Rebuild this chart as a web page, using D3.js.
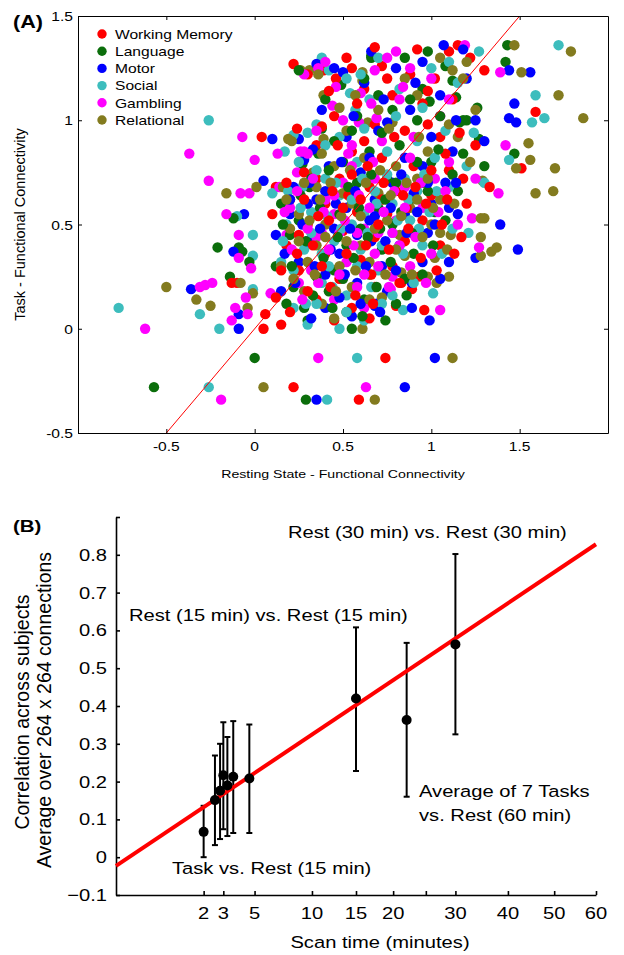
<!DOCTYPE html>
<html><head><meta charset="utf-8">
<script src="https://cdn.jsdelivr.net/npm/d3@7"></script>
<style>
body{margin:0;background:#fff}
text{font-family:"Liberation Sans",Arial,Helvetica,sans-serif;fill:#000}
</style>
</head><body>
<svg id="c" width="624" height="955"></svg>
<script>
// ---------------- Panel A data ----------------
const categories = ["Working Memory","Language","Motor","Social","Gambling","Relational"];
const workingMemory = [[0.22,1.27],[0.39,1.24],[0.04,0.92],[0.12,0.68],[0.35,0.72],[-0.13,0.22],[-0.10,0.22],[0.06,0.07],[0.05,0.0],[0.15,0.02],[0.22,-0.28],[0.74,-0.14],[0.59,-0.34],[0.96,0.09],[0.80,0.11],[0.93,0.25],[0.89,0.19],[0.83,0.22],[1.17,0.44],[1.59,1.04],[1.51,0.77],[1.15,1.36],[1.10,1.33],[0.46,1.20],
[0.30,1.22],[0.55,1.25],[0.72,1.26],[0.88,1.22],[1.02,1.20],[1.22,1.30],[0.62,1.15],[0.78,1.12],[0.95,1.08],[1.12,1.10],[0.45,1.02],[0.68,0.98],[0.85,0.95],[1.05,0.92],[1.25,0.88],[0.35,0.88],[0.55,0.85],[0.72,0.82],[0.90,0.78],[1.10,0.76],[0.28,0.75],[0.48,0.72],[0.65,0.68],[0.80,0.66],[1.00,0.64],[1.20,0.60],[0.20,0.62],[0.40,0.60],[0.58,0.56],[0.75,0.55],[0.95,0.52],[0.30,0.50],[0.50,0.47],[0.68,0.44],[0.85,0.42],[1.05,0.40],[0.18,0.40],[0.40,0.36],[0.60,0.33],[0.78,0.30],[0.25,0.28],[0.48,0.24],[0.68,0.20],[0.35,0.14],[0.55,0.10],[0.20,0.08],[0.45,0.04],[0.65,0.05],[1.18,0.72],[1.33,0.68],[0.10,0.55],
[0.52,1.30],[0.92,1.34],[0.38,0.97],[0.62,0.90],[0.98,0.98],[0.15,0.28],[0.30,0.18],[0.72,0.62],[0.86,0.58],[0.25,0.45],[0.53,0.64],[1.08,0.84],[0.42,0.52],[0.66,0.26],[0.12,0.15],
[0.18,0.70],[0.24,0.36],[0.28,0.62],[0.33,0.40],[0.36,0.54],[0.38,0.30],[0.43,0.20],[0.44,0.66],[0.47,0.88],[0.50,0.58],[0.52,0.36],[0.55,0.74],[0.57,0.16],[0.60,0.62],[0.63,0.40],[0.64,0.78],[0.67,0.12],[0.70,0.50],[0.73,0.70],[0.76,0.38],[0.79,0.92],[0.82,0.22],[0.84,0.64],[0.87,0.48],[0.91,0.68],[0.94,0.34],[0.97,0.60],[1.00,0.76],[1.03,0.28],[1.06,0.50],[1.09,0.62],[1.13,0.36],[1.16,0.94],[0.42,1.14],[0.58,1.08],[0.75,1.20],[0.98,1.14],[1.30,1.24],[0.24,0.96],[0.68,1.35]];
const language = [[0.27,0.79],[0.31,0.68],[-0.21,0.39],[-0.14,0.25],[-0.09,0.39],[-0.07,0.37],[-0.12,0.53],[-0.03,0.32],[0.0,-0.14],[-0.57,-0.28],[0.29,-0.34],[0.49,1.17],[0.66,1.31],[0.66,1.30],[1.43,1.36],[1.42,1.28],[1.47,0.84],[1.26,1.06],[1.20,1.00],[1.16,0.99],[1.18,1.00],[1.12,1.19],[1.14,1.11],[1.27,0.91],[0.99,1.09],
[0.15,0.60],[0.25,0.52],[0.42,0.66],[0.55,0.62],[0.70,0.58],[0.88,0.62],[1.02,0.56],[0.35,0.45],[0.52,0.40],[0.72,0.38],[0.90,0.36],[0.22,0.20],[0.42,0.18],[0.62,0.14],[0.80,0.12],[0.30,0.04],[0.55,0.0],[0.50,0.80],[0.65,0.85],[0.82,0.88],[1.00,0.80],[0.38,0.96],[0.58,1.02],[0.78,1.05],[0.95,1.15],[1.08,1.26],[0.85,1.30],[0.75,0.72],[0.95,0.70],[1.15,0.66],[0.45,0.28],[0.65,0.26],[0.85,0.24],[0.12,0.30],[0.62,1.20],[0.40,1.10],
[0.18,0.12],[0.35,0.25],[0.48,0.55],[0.60,0.48],[0.78,0.50],[0.32,0.72],[0.58,0.70],[0.20,0.45],[0.70,1.12],[0.92,1.00],[1.05,1.02],[0.45,0.90],[0.28,0.10],[0.52,0.08],[0.74,0.04],
[0.16,0.50],[0.21,0.30],[0.26,0.64],[0.29,0.42],[0.33,0.16],[0.37,0.58],[0.39,0.34],[0.42,0.76],[0.44,0.10],[0.47,0.44],[0.50,0.24],[0.53,0.68],[0.56,0.34],[0.59,0.58],[0.61,0.06],[0.64,0.44],[0.66,0.74],[0.69,0.20],[0.71,0.48],[0.74,0.62],[0.77,0.32],[0.80,0.70],[0.83,0.56],[0.86,0.16],[0.89,0.46],[0.92,0.80],[0.95,0.26],[0.98,0.66],[1.01,0.40],[1.04,0.86],[1.08,0.52],[1.12,0.74],[0.36,0.84],[0.55,0.95],[0.72,0.94],[0.88,1.10],[1.18,0.84],[0.25,1.24],[0.98,1.33],[1.30,0.78]];
const motor = [[0.10,0.91],[0.25,0.91],[0.28,0.81],[0.05,0.71],[-0.06,0.55],[-0.12,0.37],[-0.36,0.19],[-0.09,0.07],[-0.09,0.0],[0.35,-0.34],[1.02,-0.14],[0.85,-0.28],[0.99,0.04],[0.68,0.11],[0.69,0.12],[1.49,0.38],[1.39,0.50],[1.25,0.34],[1.10,0.32],[0.89,0.22],[1.44,1.24],[1.56,1.23],[1.47,1.08],[1.44,1.01],[1.48,0.99],[1.07,1.36],[0.66,1.33],[0.35,1.27],[0.50,1.23],[0.75,0.99],
[0.20,0.55],[0.35,0.62],[0.52,0.58],[0.68,0.62],[0.85,0.55],[1.00,0.60],[0.30,0.42],[0.48,0.36],[0.66,0.42],[0.82,0.40],[0.98,0.46],[0.25,0.32],[0.40,0.26],[0.58,0.22],[0.75,0.18],[0.40,0.10],[0.55,0.06],[0.42,0.78],[0.60,0.75],[0.78,0.70],[0.95,0.78],[1.12,0.85],[0.52,0.92],[0.70,0.95],[0.88,1.05],[1.05,1.12],[0.62,1.18],[0.80,1.25],[0.95,1.28],[1.20,1.20],[0.15,0.18],[1.15,0.55],[0.45,0.48],
[0.32,0.05],[0.22,0.68],[0.58,0.45],[0.72,0.30],[0.90,0.65],[1.08,0.70],[0.38,1.05],[1.00,0.92],[0.85,0.82],[0.30,0.60],[0.12,0.45],[0.65,0.52],[1.25,1.00],[0.48,0.15],
[0.17,0.36],[0.20,0.62],[0.23,0.22],[0.27,0.50],[0.31,0.70],[0.34,0.30],[0.37,0.48],[0.40,0.66],[0.43,0.38],[0.46,0.60],[0.49,0.80],[0.51,0.26],[0.54,0.48],[0.57,0.66],[0.60,0.12],[0.63,0.30],[0.65,0.82],[0.68,0.54],[0.71,0.08],[0.74,0.42],[0.77,0.58],[0.80,0.28],[0.83,0.74],[0.86,0.46],[0.89,0.10],[0.92,0.56],[0.95,0.32],[0.98,0.70],[1.02,0.50],[1.05,0.24],[1.10,0.58],[1.14,0.70],[0.33,0.86],[0.56,1.02],[0.73,1.10],[0.91,1.18],[1.14,1.00],[1.30,0.90],[0.45,1.25],[1.18,1.34]];
const social = [[-0.26,1.0],[0.22,0.93],[0.17,0.85],[0.10,0.65],[0.27,0.68],[-0.10,0.54],[-0.01,0.35],[-0.01,0.45],[-0.01,0.19],[-0.77,0.10],[-0.31,0.07],[-0.20,0.0],[-0.26,-0.28],[0.58,-0.14],[0.41,-0.34],[0.84,0.09],[1.01,0.17],[1.21,0.46],[1.72,1.36],[1.27,1.33],[0.38,1.30],[0.42,1.24],[0.54,1.13],[1.59,1.12],[1.64,1.01],[1.57,0.99],[1.44,0.81],[0.57,1.05],
[0.18,0.50],[0.32,0.56],[0.48,0.64],[0.62,0.55],[0.78,0.60],[0.92,0.66],[0.28,0.38],[0.45,0.42],[0.60,0.38],[0.78,0.46],[0.95,0.40],[0.22,0.10],[0.38,0.22],[0.52,0.16],[0.70,0.28],[0.30,0.02],[0.48,0.00],[0.62,0.04],[0.40,0.72],[0.58,0.80],[0.75,0.85],[0.92,0.90],[1.08,0.95],[0.65,1.10],[0.82,1.15],[1.00,1.25],[1.15,1.18],[0.70,1.30],[1.20,0.78],[1.10,0.68],[0.35,0.98],
[0.15,0.32],[0.42,0.30],[0.55,0.50],[0.68,0.66],[0.85,0.72],[0.25,0.80],[0.48,0.92],[0.88,0.52],[1.02,0.82],[0.60,1.22],[0.35,0.12],[0.72,0.12],[1.30,0.70],[0.50,0.26],
[0.16,0.42],[0.19,0.66],[0.22,0.28],[0.26,0.58],[0.29,0.12],[0.32,0.46],[0.35,0.76],[0.38,0.36],[0.41,0.54],[0.44,0.20],[0.46,0.70],[0.49,0.48],[0.52,0.08],[0.55,0.62],[0.58,0.30],[0.61,0.72],[0.64,0.46],[0.66,0.20],[0.69,0.60],[0.72,0.40],[0.75,0.74],[0.78,0.16],[0.81,0.52],[0.84,0.36],[0.87,0.62],[0.90,0.22],[0.93,0.48],[0.96,0.74],[0.99,0.56],[1.03,0.66],[1.06,0.36],[1.12,0.48],[0.40,0.88],[0.62,0.96],[0.80,1.02],[0.95,1.06],[1.10,1.28],[0.52,1.20],[1.24,0.94],[0.30,0.94]];
const gambling = [[-0.07,0.92],[-0.37,0.84],[0.0,0.81],[0.13,0.84],[0.26,0.85],[0.28,0.85],[0.24,0.75],[-0.26,0.71],[-0.08,0.65],[-0.03,0.65],[0.14,0.68],[-0.16,0.55],[-0.09,0.45],[-0.02,0.29],[-0.09,0.34],[-0.62,0.0],[-0.31,0.20],[-0.28,0.21],[-0.24,0.22],[-0.11,0.10],[-0.13,0.04],[-0.04,0.07],[-0.05,0.15],[0.09,0.17],[-0.19,-0.34],[0.36,-0.14],[0.63,-0.28],[1.05,0.09],[0.77,0.19],[0.78,0.25],[1.38,0.65],[1.27,0.39],[1.23,0.53],[1.39,1.23],[1.42,0.88],[1.19,1.36],[0.80,1.33],[0.36,1.25],[0.46,1.16],[0.44,1.07],[0.60,1.13],[0.59,0.99],[0.69,1.01],
[0.30,0.60],[0.45,0.55],[0.62,0.48],[0.80,0.52],[0.35,0.44],[0.52,0.32],[0.68,0.36],[0.88,0.30],[0.25,0.22],[0.45,0.14],[0.62,0.10],[0.50,0.70],[0.68,0.72],[0.85,0.68],[1.02,0.72],[0.55,0.88],[0.72,0.90],[0.90,0.92],[1.05,1.02],[0.82,1.10],[1.00,1.20],[0.68,1.24],[0.18,0.45],
[0.38,0.46],[0.48,0.46],[0.58,0.46],[0.70,0.46],[0.78,0.46],[0.40,0.62],[0.20,0.58],[0.55,0.78],[0.95,0.58],[1.10,0.80],[0.32,0.28],[0.58,0.20],[0.88,1.25],[0.75,1.30],[0.28,1.22],
[0.17,0.56],[0.21,0.38],[0.24,0.66],[0.27,0.14],[0.30,0.48],[0.33,0.72],[0.36,0.22],[0.39,0.56],[0.42,0.38],[0.45,0.64],[0.48,0.26],[0.51,0.52],[0.53,0.84],[0.56,0.40],[0.59,0.64],[0.62,0.26],[0.65,0.58],[0.67,0.80],[0.70,0.30],[0.73,0.56],[0.76,0.20],[0.79,0.66],[0.82,0.40],[0.85,0.58],[0.88,0.82],[0.91,0.44],[0.94,0.70],[0.97,0.22],[1.00,0.36],[1.04,0.56],[1.08,0.66],[1.15,0.50],[0.35,0.95],[0.50,1.00],[0.66,1.08],[0.84,1.16],[1.10,1.10],[0.40,1.28],[1.25,0.72],[0.30,0.84]];
const relational = [[0.26,1.24],[0.31,1.24],[0.39,1.12],[0.61,1.23],[0.61,1.19],[0.64,0.99],[0.78,0.99],[0.19,0.91],[0.21,0.90],[0.39,0.91],[0.33,0.75],[-0.16,0.65],[0.01,0.68],[0.16,0.68],[-0.50,0.20],[-0.33,0.14],[-0.25,0.11],[-0.08,0.22],[-0.04,0.10],[-0.01,0.17],[0.05,-0.28],[0.61,0.0],[1.12,-0.14],[0.68,-0.34],[1.59,0.65],[1.69,0.66],[1.29,0.71],[1.28,0.35],[1.34,0.37],[1.37,0.39],[1.28,0.44],[1.11,0.45],[1.28,0.53],[1.30,0.53],[1.10,0.25],[1.03,0.22],[1.02,0.34],[0.98,0.25],[0.83,0.27],[1.47,1.36],[1.79,1.33],[1.51,1.23],[1.72,1.12],[1.86,1.01],[1.55,0.89],[1.56,0.81],[1.48,0.77],[1.70,0.77],
[0.25,0.55],[0.40,0.50],[0.55,0.60],[0.70,0.65],[0.88,0.58],[1.05,0.62],[0.30,0.32],[0.48,0.30],[0.65,0.32],[0.82,0.45],[0.38,0.12],[0.55,0.20],[0.72,0.15],[0.45,0.78],[0.62,0.82],[0.80,0.78],[0.98,0.85],[1.15,0.92],[1.25,1.05],[0.85,1.20],[1.05,1.30],[1.20,1.28],[0.15,0.30],[0.35,0.68],
[0.20,0.48],[0.50,0.65],[0.60,0.40],[0.75,0.52],[0.92,0.72],[1.10,0.98],[0.45,0.05],[0.28,0.18],[0.70,1.05],[0.92,1.12],[1.18,1.20],[0.52,0.95],[1.00,0.50],[0.35,0.40],[0.85,0.35],
[0.18,0.62],[0.22,0.24],[0.25,0.42],[0.28,0.70],[0.31,0.52],[0.34,0.26],[0.37,0.62],[0.40,0.44],[0.43,0.70],[0.46,0.18],[0.49,0.54],[0.52,0.42],[0.54,0.76],[0.57,0.28],[0.60,0.54],[0.63,0.70],[0.65,0.14],[0.68,0.48],[0.71,0.76],[0.74,0.26],[0.77,0.64],[0.80,0.38],[0.83,0.54],[0.86,0.70],[0.89,0.26],[0.92,0.62],[0.95,0.44],[0.98,0.72],[1.01,0.58],[1.05,0.46],[1.09,0.38],[1.13,0.60],[0.38,0.84],[0.57,1.12],[0.76,0.96],[0.93,0.92],[1.12,1.24],[0.36,1.22],[1.22,0.80],[0.48,1.06]];
const identityLine = [[-0.5,-0.5],[1.5,1.5]];
const xTicksA = [-0.5,0,0.5,1,1.5];
const xTickLabelsA = ["-0.5","0","0.5","1","1.5"];
const yTicksA = [-0.5,0,0.5,1,1.5];
const yTickLabelsA = ["-0.5","0","0.5","1","1.5"];

// ---------------- Panel B data ----------------
const scanTimes = [2,2.55,2.82,3.0,3.23,3.58,4.63,15,22,30];
const corrMean  = [0.067,0.151,0.176,0.217,0.190,0.213,0.208,0.420,0.363,0.563];
const corrLow   = [0.000,0.032,0.048,0.074,0.056,0.064,0.064,0.228,0.160,0.325];
const corrHigh  = [0.136,0.269,0.300,0.357,0.318,0.360,0.351,0.608,0.567,0.802];
const fitLine = [[0,-0.023],[60,0.828]];
const xTicksB = [2,3,5,10,15,20,25,30,40,50,60];
const xTickLabelsB = ["2","3","5","10","15","20","","30","40","50","60"];
const yTicksB = [-0.1,0,0.1,0.2,0.3,0.4,0.5,0.6,0.7,0.8,0.9];
const yTickLabelsB = ["\u22120.1","0","0.1","0.2","0.3","0.4","0.5","0.6","0.7","0.8",""];

// ---------------- styles ----------------
const colors = ["#ff0000","#0b6e0b","#0000ff","#3dbdbd","#ff00ff","#837b1f"];
const SX = 1.2;

const svg = d3.select("#c");
svg.append("rect").attr("width",624).attr("height",955).attr("fill","#fff");

function stext(g, str, x, y, size, anchor, weight) {
  return g.append("text")
    .attr("transform", `translate(${x},${y}) scale(${SX},1)`)
    .attr("text-anchor", anchor || "start")
    .style("font-size", size + "px")
    .style("font-weight", weight || "normal")
    .text(str);
}
function axStyle(g){ g.selectAll("path,line").attr("stroke","#000").attr("stroke-width",1); g.selectAll("text").remove(); }

// ================= Panel A =================
const xA = d3.scaleLinear().domain([-1,2]).range([78,608]);
const yA = d3.scaleLinear().domain([-0.5,1.5]).range([433,16]);
const gA = svg.append("g");
svg.append("defs").append("clipPath").attr("id","clipA")
  .append("rect").attr("x",xA.range()[0]).attr("y",yA.range()[1])
  .attr("width",xA.range()[1]-xA.range()[0]).attr("height",yA.range()[0]-yA.range()[1]);

const seriesA = [workingMemory, language, motor, social, gambling, relational];
const maxLen = d3.max(seriesA, s => s.length);
const pts = [];
for (let k = 0; k < maxLen; k++) seriesA.forEach((s,i) => { if (k < s.length) pts.push({c:i, p:s[k]}); });
gA.append("g").attr("clip-path","url(#clipA)").selectAll("circle").data(pts).join("circle")
  .attr("cx", d => xA(d.p[0])).attr("cy", d => yA(d.p[1])).attr("r", 5.2)
  .attr("fill", d => colors[d.c]);

gA.append("path").datum(identityLine).attr("clip-path","url(#clipA)")
  .attr("d", d3.line().x(d => xA(d[0])).y(d => yA(d[1])))
  .attr("stroke","#ff0000").attr("stroke-width",1).attr("fill","none");

gA.append("g").attr("transform",`translate(0,${yA.range()[0]})`)
  .call(d3.axisBottom(xA).tickValues(xTicksA).tickSizeInner(-4).tickSizeOuter(0)).call(axStyle);
gA.append("g").attr("transform",`translate(0,${yA.range()[1]})`)
  .call(d3.axisTop(xA).tickValues(xTicksA).tickSizeInner(-4).tickSizeOuter(0)).call(axStyle);
gA.append("g").attr("transform",`translate(${xA.range()[0]},0)`)
  .call(d3.axisLeft(yA).tickValues(yTicksA).tickSizeInner(-4).tickSizeOuter(0)).call(axStyle);
gA.append("g").attr("transform",`translate(${xA.range()[1]},0)`)
  .call(d3.axisRight(yA).tickValues(yTicksA).tickSizeInner(-4).tickSizeOuter(0)).call(axStyle);

xTicksA.forEach((v,i) => stext(gA, xTickLabelsA[i], xA(v), yA.range()[0] + 18, 13, "middle"));
yTicksA.forEach((v,i) => stext(gA, yTickLabelsA[i], xA.range()[0] - 5, yA(v) + 5, 13, "end"));

stext(gA, "(A)", 13, 28, 18, "start", "bold");
stext(gA, "Resting State - Functional Connectivity", (xA.range()[0]+xA.range()[1])/2, 478, 11.8, "middle");
gA.append("text").attr("transform",`translate(25,${(yA.range()[0]+yA.range()[1])/2}) rotate(-90)`)
  .attr("text-anchor","middle").style("font-size","14.5px").text("Task - Functional Connectivity");

const leg = gA.append("g");
categories.forEach((c,i) => {
  const y = 34 + i*17.2;
  leg.append("circle").attr("cx",102).attr("cy",y).attr("r",4.7).attr("fill",colors[i]);
  stext(leg, c, 115, y + 4.8, 13, "start");
});

// ================= Panel B =================
const xB = d3.scaleSqrt().domain([0,60]).range([116,596]);
const yB = d3.scaleLinear().domain([-0.1,0.9]).range([895,517]);
const gB = svg.append("g");

gB.append("g").attr("transform",`translate(0,${yB.range()[0]})`)
  .call(d3.axisBottom(xB).tickValues(xTicksB).tickSizeInner(-4).tickSizeOuter(0)).call(axStyle)
  .selectAll("path,line").attr("stroke-width",1.6);
gB.append("g").attr("transform",`translate(${xB.range()[0]},0)`)
  .call(d3.axisLeft(yB).tickValues(yTicksB).tickSizeInner(-4).tickSizeOuter(0)).call(axStyle)
  .selectAll("path,line").attr("stroke-width",1.6);

xTicksB.forEach((v,i) => stext(gB, xTickLabelsB[i], xB(v), 919, 16.8, "middle"));
yTicksB.forEach((v,i) => stext(gB, yTickLabelsB[i], 107, yB(v) + 6, 16.8, "end"));

const dataB = scanTimes.map((t,i) => ({t, m:corrMean[i], lo:corrLow[i], hi:corrHigh[i]}));
const eb = gB.append("g").attr("stroke","#000").attr("stroke-width",2);
eb.selectAll("line.bar").data(dataB).join("line").attr("class","bar")
  .attr("x1",d=>xB(d.t)).attr("x2",d=>xB(d.t)).attr("y1",d=>yB(d.lo)).attr("y2",d=>yB(d.hi));
eb.selectAll("line.caplo").data(dataB).join("line").attr("class","caplo")
  .attr("x1",d=>xB(d.t)-3).attr("x2",d=>xB(d.t)+3).attr("y1",d=>yB(d.lo)).attr("y2",d=>yB(d.lo));
eb.selectAll("line.caphi").data(dataB).join("line").attr("class","caphi")
  .attr("x1",d=>xB(d.t)-3).attr("x2",d=>xB(d.t)+3).attr("y1",d=>yB(d.hi)).attr("y2",d=>yB(d.hi));

gB.append("path").datum(fitLine)
  .attr("d", d3.line().x(d => xB(d[0])).y(d => yB(d[1])))
  .attr("stroke","#ff0000").attr("stroke-width",4).attr("fill","none");

gB.selectAll("circle").data(dataB).join("circle")
  .attr("cx",d=>xB(d.t)).attr("cy",d=>yB(d.m)).attr("r",5).attr("fill","#000");

stext(gB, "(B)", 13, 532, 17, "start", "bold");
stext(gB, "Rest (30 min) vs. Rest (30 min)", 288, 538, 16.8, "start");
stext(gB, "Rest (15 min) vs. Rest (15 min)", 129, 621, 16.8, "start");
stext(gB, "Task vs. Rest (15 min)", 172, 874, 16.8, "start");
stext(gB, "Average of 7 Tasks", 419, 797, 16.8, "start");
stext(gB, "vs. Rest (60 min)", 419, 821, 16.8, "start");
stext(gB, "Scan time (minutes)", 380, 948, 16.8, "middle");
gB.append("text").attr("transform","translate(29,712) rotate(-90)").attr("text-anchor","middle")
  .style("font-size","19.5px").text("Correlation across subjects");
gB.append("text").attr("transform","translate(51,710) rotate(-90)").attr("text-anchor","middle")
  .style("font-size","19.5px").text("Average over 264 x 264 connections");
</script>
</body></html>
